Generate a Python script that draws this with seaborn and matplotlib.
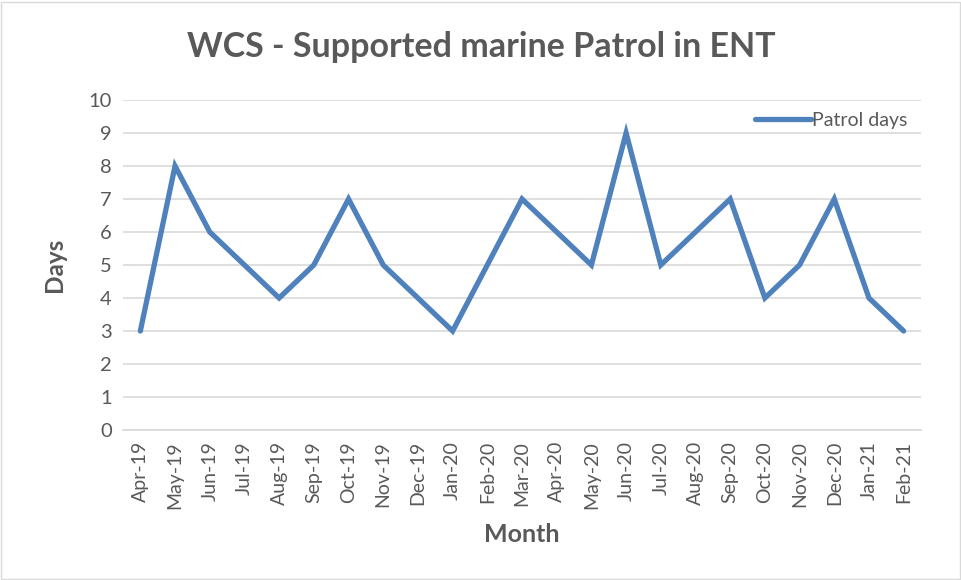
import pandas as pd
import numpy as np
import seaborn as sns
import matplotlib.pyplot as plt
from matplotlib.patches import Rectangle

months = ['Apr-19', 'May-19', 'Jun-19', 'Jul-19', 'Aug-19', 'Sep-19', 'Oct-19',
          'Nov-19', 'Dec-19', 'Jan-20', 'Feb-20', 'Mar-20', 'Apr-20', 'May-20',
          'Jun-20', 'Jul-20', 'Aug-20', 'Sep-20', 'Oct-20', 'Nov-20', 'Dec-20',
          'Jan-21', 'Feb-21']
patrol_days = [3, 8, 6, 5, 4, 5, 7, 5, 4, 3, 5, 7, 6, 5, 9, 5, 6, 7, 4, 5, 7, 4, 3]

df = pd.DataFrame({'Month': months, 'Patrol days': patrol_days})
df['pos'] = np.arange(len(df))

sns.set_style('white')
plt.rcParams['font.family'] = ['Lato', 'DejaVu Sans']

gray = '#595959'
fig = plt.figure(figsize=(9.62, 5.8), dpi=100)
ax = fig.add_axes([123 / 962, 1 - 430 / 580, (921 - 123) / 962, 330 / 580])

sns.lineplot(data=df, x='pos', y='Patrol days', ax=ax, color='#4F81BD',
             linewidth=3.8, label='Patrol days')
ax.lines[0].set_solid_capstyle('round')
ax.lines[0].set_solid_joinstyle('miter')

n = len(months)
ax.set_xlim(-0.5, n - 0.5)
ax.set_ylim(0, 10)
ax.set_yticks(range(0, 11))
ax.set_xticks(range(n))
ax.set_xticklabels(months, rotation=90, fontsize=14, color=gray)
ax.set_xticks(np.arange(-0.5, n, 1), minor=True)
ax.tick_params(axis='x', which='major', length=0, pad=8)
ax.tick_params(axis='x', which='minor', length=6, color='#d9d9d9', width=1.2, direction='out')
ax.tick_params(axis='y', length=0, labelsize=14.5, labelcolor=gray, pad=8)

ax.grid(axis='y', color='#d9d9d9', linewidth=1.2)
ax.set_axisbelow(True)
for s in ['top', 'right', 'left']:
    ax.spines[s].set_visible(False)
ax.spines['bottom'].set_color('#d9d9d9')
ax.spines['bottom'].set_linewidth(1.2)

ax.set_xlabel('Month', fontsize=18, fontweight='bold', color=gray, labelpad=10)
ax.set_ylabel('Days', fontsize=17.5, fontweight='bold', color=gray, labelpad=16)
fig.suptitle('WCS - Supported marine Patrol in ENT', fontsize=24.5, fontweight='bold',
             color=gray, y=1 - 47 / 580, va='center')

leg = ax.legend(loc='upper right', frameon=False, fontsize=14, handlelength=2.9,
                handletextpad=0.05, bbox_to_anchor=(1.005, 1.018))
for t in leg.get_texts():
    t.set_color(gray)

fig.patches.append(Rectangle((1 / 962, 1 / 580), 959 / 962, 577 / 580, transform=fig.transFigure,
                             fill=False, edgecolor='#d9d9d9', linewidth=1))

fig.savefig('out.png', dpi=100)
